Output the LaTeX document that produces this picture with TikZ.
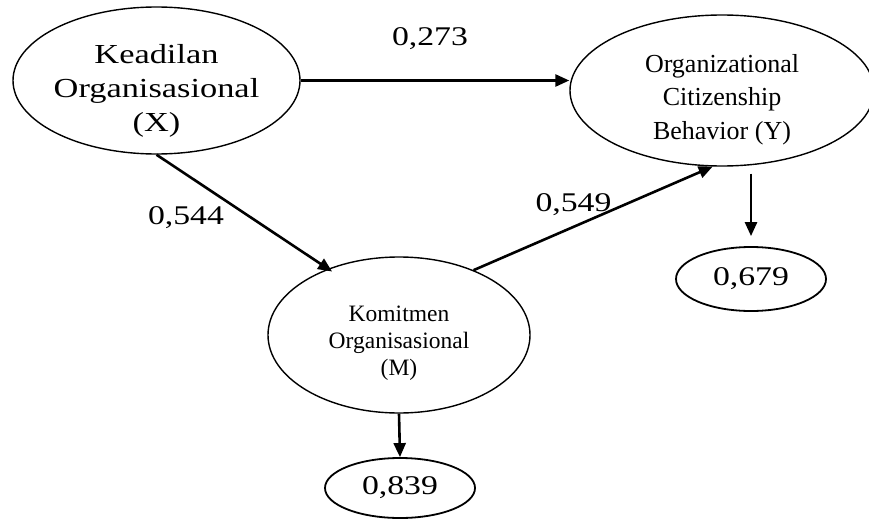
\documentclass[tikz,border=0pt]{standalone}
\usepackage{fontspec}
\setmainfont{Liberation Serif}
\newfontfamily\widerm{Liberation Serif}[FakeStretch=1.25]
\usetikzlibrary{shapes.geometric, arrows.meta}

\tikzset{
  var/.style={draw, ellipse, line width=1.4pt, inner sep=0pt},
  vartext/.style={align=center, inner sep=0pt},
  resid/.style={draw, ellipse, line width=1.8pt, inner sep=0pt, font=\widerm\fontsize{27}{30}\selectfont},
  effect/.style={line width=2.6pt, -{Triangle[length=14pt,width=12pt]}},
  coef/.style={font=\widerm\fontsize{27}{30}\selectfont},
}

\begin{document}
\begin{tikzpicture}[x=1pt, y=-1pt]
\useasboundingbox (0,0) rectangle (869,519);
\node[var, minimum width=287pt, minimum height=147pt] (kead) at (156.5,80.5) {};
\node[var, minimum width=304pt, minimum height=151pt] (ocb) at (722,90.5) {};
\node[var, minimum width=262pt, minimum height=156pt] (komit) at (399,335) {};
\node[resid, minimum width=150pt, minimum height=60pt] (r2m) at (400,488) {0,839};
\node[resid, minimum width=150pt, minimum height=64pt] (r2y) at (751,279) {0,679};

% texts inside the ellipses
\node[vartext, font=\widerm\fontsize{27.5}{34}\selectfont] (keadtxt) at ([yshift=-10pt]kead.center) {Keadilan\\Organisasional\\(X)};
\node[vartext, font=\fontsize{26}{33.5}\selectfont] (ocbtxt) at ([yshift=-9pt]ocb.center) {Organizational\\Citizenship\\Behavior (Y)};
\node[vartext, font=\fontsize{23.5}{27}\selectfont] (komittxt) at ([yshift=-8pt]komit.center) {Komitmen\\Organisasional\\(M)};

\draw[effect] (kead.east) -- (kead.east -| ocb.west);
\draw[effect, shorten >=-5pt] (kead.south) -- (komit.137);
\draw[effect] (komit.41) -- (ocb.263);
\draw[effect] (komit.south) -- (r2m.north);
\draw[effect, shorten <=7pt, shorten >=10pt] (r2y.north |- ocb.south) -- (r2y.north);

\node[coef] (pxy) at (430,39) {0,273};
\node[coef] (pxm) at (186,218) {0,544};
\node[coef] (pmy) at (573.5,205) {0,549};
\end{tikzpicture}
\end{document}
